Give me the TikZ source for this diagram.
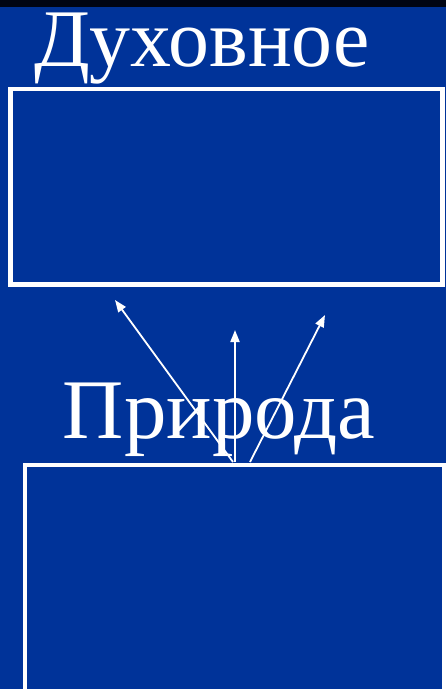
\documentclass[tikz,border=0pt]{standalone}
\usepackage{fontspec}
\setmainfont{Liberation Serif}
\usetikzlibrary{arrows.meta}
\definecolor{bgblue}{RGB}{0,51,153}
\definecolor{topbar}{RGB}{0,5,20}
\tikzset{
  frame/.style={draw=white, line width=4.5pt, inner sep=0pt, outer sep=0pt},
  title/.style={text=white, inner sep=0pt, outer sep=0pt, anchor=base west},
  ray/.style={draw=white, line width=1.8pt, -{Triangle[length=12pt,width=9pt]}}
}
\begin{document}
\begin{tikzpicture}[x=1pt,y=-1pt]
\useasboundingbox (0,0) rectangle (446,689);
\begin{scope}
\clip (0,0) rectangle (446,689);
\fill[bgblue] (0,0) rectangle (446,689);
\fill[topbar] (0,0) rectangle (446,7);
\node[frame, minimum width=432pt, minimum height=195.5pt] (spirit) at (226.5,186.75) {};
\node[frame, minimum width=419pt, minimum height=226pt] (nature) at (234.5,578) {};
\node[title] (spiritlabel) at (34,66) {\resizebox{336pt}{!}{Духовное}};
\node[title] (naturelabel) at (63,438) {\resizebox{312pt}{!}{Природа}};
\coordinate (s1) at (233,462);
\coordinate (s2) at (235,462);
\coordinate (s3) at (250,462);
\coordinate (t1) at (115,300);
\coordinate (t2) at (235,330);
\coordinate (t3) at (325,315);
\draw[ray] (s1) -- (t1);
\draw[ray] (s2) -- (t2);
\draw[ray] (s3) -- (t3);
\end{scope}
\end{tikzpicture}
\end{document}
